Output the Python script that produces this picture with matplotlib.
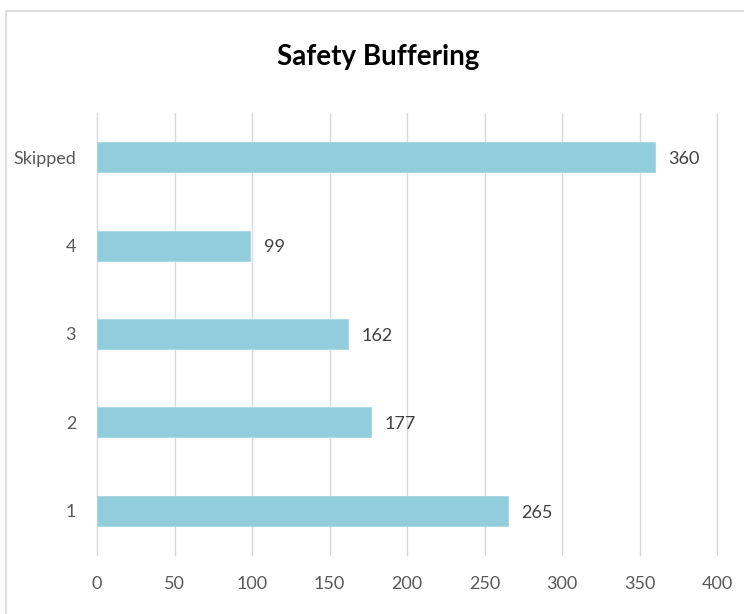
import matplotlib.pyplot as plt
from matplotlib.patches import Rectangle

categories = ["1", "2", "3", "4", "Skipped"]
counts = [265, 177, 162, 99, 360]
xticks = [0, 50, 100, 150, 200, 250, 300, 350, 400]

plt.rcParams['font.family'] = ['Lato', 'DejaVu Sans']

fig = plt.figure(figsize=(7.44, 6.14), dpi=100)
ax = fig.add_axes([97 / 744, 1 - 555 / 614, 620 / 744, 442 / 614])

# light frame round the chart, cut off on the right and bottom
fig.patches.append(Rectangle((5.5 / 744, -0.1), 1.2, 1 - 10.5 / 614 + 0.1,
                             transform=fig.transFigure, fill=False,
                             edgecolor='#d9d9d9', linewidth=1.2))

bars = ax.barh(categories, counts, height=0.34, color='#92cddc',
               edgecolor='#a6d7e4', linewidth=0.6, zorder=3)
for b, v in zip(bars, counts):
    ax.text(b.get_width() + 8.5, b.get_y() + b.get_height() / 2 - 0.02, str(v),
            va='center', ha='left', fontsize=13, color='#404040')

ax.set_xlim(0, 400)
ax.set_ylim(-0.5, 4.5)
ax.set_xticks(xticks)
ax.grid(axis='x', color='#d9d9d9', linewidth=1, zorder=0)
for gl in ax.get_xgridlines():
    gl.set_clip_on(False)
for s in ax.spines.values():
    s.set_visible(False)
ax.tick_params(axis='both', length=0, labelsize=13, labelcolor='#595959')
ax.tick_params(axis='x', pad=15)
ax.tick_params(axis='y', pad=15)

fig.text(378 / 744, 1 - 57 / 614, "Safety Buffering", ha='center', va='center',
         fontsize=20, fontweight='bold', color='black')

fig.savefig('out.png', dpi=100)
